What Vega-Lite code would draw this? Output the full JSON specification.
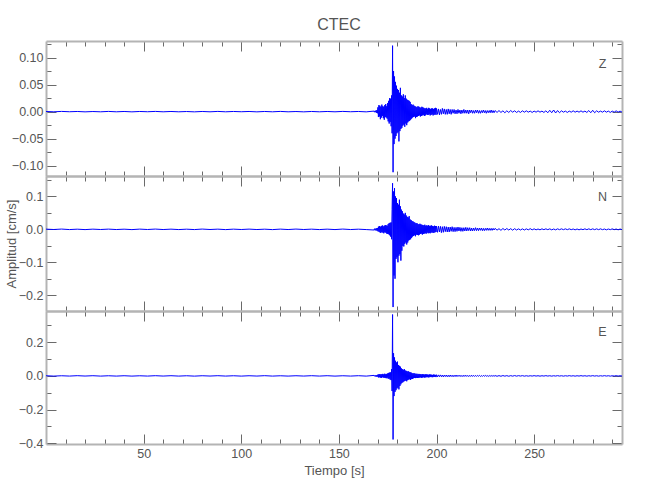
{
  "$schema": "https://vega.github.io/schema/vega-lite/v6.json",
  "background": "white",
  "padding": {"left": 5, "top": 17, "right": 5, "bottom": 5},
  "title": {"text": "CTEC", "fontSize": 16, "font": "Liberation Sans, sans-serif", "fontWeight": "normal", "color": "#555555", "anchor": "middle", "offset": 5, "dx": 25},
  "spacing": 0,
  "bounds": "flush",
  "config": {
    "view": {"stroke": null},
    "axis": {
      "grid": false,
      "domainColor": "#b4b4b4",
      "domainWidth": 2,
      "tickColor": "#6a6a6a",
      "tickWidth": 1,
      "labelFont": "Liberation Sans, sans-serif",
      "labelFontSize": 12.5,
      "labelColor": "#555555",
      "labelOverlap": false,
      "labelFlush": false,
      "labelPadding": 13,
      "titleFont": "Liberation Sans, sans-serif",
      "titleFontWeight": "normal",
      "titleColor": "#555555",
      "titleFontSize": 13
    }
  },
  "data": {"values": [
    {"t":0,"Z":0.0003,"N":0.0006,"E":0.001},
    {"t":4,"Z":-0.0003,"N":-0.0005,"E":-0.0012},
    {"t":8,"Z":0.0004,"N":0.0008,"E":0.0009},
    {"t":12,"Z":-0.0002,"N":-0.0007,"E":-0.001},
    {"t":16,"Z":0.0003,"N":0.0005,"E":0.0013},
    {"t":20,"Z":-0.0004,"N":-0.0008,"E":-0.0008},
    {"t":24,"Z":0.0002,"N":0.0006,"E":0.0011},
    {"t":28,"Z":-0.0003,"N":-0.0005,"E":-0.0012},
    {"t":32,"Z":0.0004,"N":0.0007,"E":0.0009},
    {"t":36,"Z":-0.0003,"N":-0.0006,"E":-0.0011},
    {"t":40,"Z":0.0003,"N":0.0005,"E":0.001},
    {"t":44,"Z":-0.0004,"N":-0.0008,"E":-0.0012},
    {"t":48,"Z":0.0003,"N":0.0007,"E":0.0008},
    {"t":52,"Z":-0.0002,"N":-0.0005,"E":-0.001},
    {"t":56,"Z":0.0004,"N":0.0008,"E":0.0012},
    {"t":60,"Z":-0.0003,"N":-0.0006,"E":-0.0009},
    {"t":64,"Z":0.0003,"N":0.0006,"E":0.0011},
    {"t":68,"Z":-0.0003,"N":-0.0007,"E":-0.0011},
    {"t":72,"Z":0.0002,"N":0.0005,"E":0.0009},
    {"t":76,"Z":-0.0004,"N":-0.0007,"E":-0.0013},
    {"t":80,"Z":0.0003,"N":0.0008,"E":0.001},
    {"t":84,"Z":-0.0003,"N":-0.0005,"E":-0.0008},
    {"t":88,"Z":0.0004,"N":0.0006,"E":0.0012},
    {"t":92,"Z":-0.0003,"N":-0.0008,"E":-0.001},
    {"t":96,"Z":0.0003,"N":0.0006,"E":0.0009},
    {"t":100,"Z":-0.0002,"N":-0.0005,"E":-0.0012},
    {"t":104,"Z":0.0003,"N":0.0007,"E":0.001},
    {"t":108,"Z":-0.0004,"N":-0.0006,"E":-0.0009},
    {"t":112,"Z":0.0003,"N":0.0005,"E":0.0013},
    {"t":116,"Z":-0.0003,"N":-0.0008,"E":-0.0011},
    {"t":120,"Z":0.0004,"N":0.0007,"E":0.0008},
    {"t":124,"Z":-0.0003,"N":-0.0006,"E":-0.0011},
    {"t":128,"Z":0.0002,"N":0.0008,"E":0.001},
    {"t":132,"Z":-0.0004,"N":-0.0005,"E":-0.0009},
    {"t":136,"Z":0.0003,"N":0.0006,"E":0.0012},
    {"t":140,"Z":-0.0003,"N":-0.0007,"E":-0.001},
    {"t":144,"Z":0.0003,"N":0.0006,"E":0.0011},
    {"t":148,"Z":-0.0003,"N":-0.0007,"E":-0.0012},
    {"t":152,"Z":0.0004,"N":0.0008,"E":0.0009},
    {"t":156,"Z":-0.0002,"N":-0.0006,"E":-0.001},
    {"t":160,"Z":0.0003,"N":0.0005,"E":0.0011},
    {"t":164,"Z":-0.0004,"N":-0.0007,"E":-0.0012},
    {"t":168,"Z":0.001,"N":-0.002,"E":0.003},
    {"t":168.25,"Z":-0.001,"N":0.002,"E":-0.002},
    {"t":168.5,"Z":0.0015,"N":-0.003,"E":0.004},
    {"t":168.75,"Z":-0.001,"N":0.002,"E":-0.003},
    {"t":169,"Z":0.002,"N":-0.003,"E":0.003},
    {"t":169.25,"Z":-0.002,"N":0.003,"E":-0.004},
    {"t":169.5,"Z":0.003,"N":-0.004,"E":0.005},
    {"t":169.75,"Z":-0.003,"N":0.004,"E":-0.004},
    {"t":170,"Z":0.008,"N":-0.006,"E":0.008},
    {"t":170.25,"Z":-0.01,"N":0.008,"E":-0.009},
    {"t":170.5,"Z":0.012,"N":-0.007,"E":0.01},
    {"t":170.75,"Z":-0.009,"N":0.01,"E":-0.008},
    {"t":171,"Z":0.011,"N":-0.009,"E":0.011},
    {"t":171.25,"Z":-0.014,"N":0.008,"E":-0.01},
    {"t":171.5,"Z":0.009,"N":-0.011,"E":0.009},
    {"t":171.75,"Z":-0.011,"N":0.01,"E":-0.012},
    {"t":172,"Z":0.013,"N":-0.008,"E":0.01},
    {"t":172.25,"Z":-0.008,"N":0.012,"E":-0.008},
    {"t":172.5,"Z":0.01,"N":-0.01,"E":0.012},
    {"t":172.75,"Z":-0.012,"N":0.009,"E":-0.01},
    {"t":173,"Z":0.009,"N":-0.012,"E":0.009},
    {"t":173.25,"Z":-0.015,"N":0.011,"E":-0.011},
    {"t":173.5,"Z":0.012,"N":-0.009,"E":0.013},
    {"t":173.75,"Z":-0.01,"N":0.013,"E":-0.012},
    {"t":174,"Z":0.014,"N":-0.01,"E":0.01},
    {"t":174.25,"Z":-0.011,"N":0.012,"E":-0.014},
    {"t":174.5,"Z":0.01,"N":-0.013,"E":0.012},
    {"t":174.75,"Z":-0.013,"N":0.011,"E":-0.011},
    {"t":175,"Z":0.016,"N":-0.014,"E":0.015},
    {"t":175.25,"Z":-0.018,"N":0.016,"E":-0.017},
    {"t":175.5,"Z":0.02,"N":-0.015,"E":0.018},
    {"t":175.75,"Z":-0.022,"N":0.019,"E":-0.016},
    {"t":176,"Z":0.025,"N":-0.018,"E":0.02},
    {"t":176.25,"Z":-0.019,"N":0.02,"E":-0.022},
    {"t":176.5,"Z":0.024,"N":-0.022,"E":0.021},
    {"t":176.75,"Z":-0.027,"N":0.021,"E":-0.025},
    {"t":177,"Z":0.03,"N":-0.03,"E":0.04},
    {"t":177.25,"Z":-0.04,"N":0.06,"E":-0.09},
    {"t":177.5,"Z":0.122,"N":0.14,"E":0.365},
    {"t":177.75,"Z":-0.112,"N":-0.236,"E":-0.378},
    {"t":178,"Z":0.075,"N":0.115,"E":0.135},
    {"t":178.25,"Z":-0.06,"N":-0.14,"E":-0.12},
    {"t":178.5,"Z":0.065,"N":0.125,"E":0.11},
    {"t":178.75,"Z":-0.05,"N":-0.15,"E":-0.095},
    {"t":179,"Z":0.055,"N":0.1,"E":0.09},
    {"t":179.25,"Z":-0.045,"N":-0.09,"E":-0.085},
    {"t":179.5,"Z":0.048,"N":0.095,"E":0.08},
    {"t":179.75,"Z":-0.04,"N":-0.085,"E":-0.075},
    {"t":180,"Z":0.042,"N":0.08,"E":0.085},
    {"t":180.25,"Z":-0.038,"N":-0.1,"E":-0.07},
    {"t":180.5,"Z":0.04,"N":0.075,"E":0.065},
    {"t":180.75,"Z":-0.055,"N":-0.08,"E":-0.08},
    {"t":181,"Z":0.035,"N":0.09,"E":0.06},
    {"t":181.25,"Z":-0.036,"N":-0.075,"E":-0.06},
    {"t":181.5,"Z":0.044,"N":0.07,"E":0.055},
    {"t":181.75,"Z":-0.032,"N":-0.095,"E":-0.05},
    {"t":182,"Z":0.03,"N":0.06,"E":0.045},
    {"t":182.25,"Z":-0.03,"N":-0.065,"E":-0.042},
    {"t":182.5,"Z":0.028,"N":0.055,"E":0.04},
    {"t":182.75,"Z":-0.026,"N":-0.05,"E":-0.038},
    {"t":183,"Z":0.032,"N":0.048,"E":0.036},
    {"t":183.25,"Z":-0.024,"N":-0.052,"E":-0.034},
    {"t":183.5,"Z":0.025,"N":0.045,"E":0.04},
    {"t":183.75,"Z":-0.028,"N":-0.044,"E":-0.03},
    {"t":184,"Z":0.03,"N":0.05,"E":0.032},
    {"t":184.25,"Z":-0.022,"N":-0.04,"E":-0.028},
    {"t":184.5,"Z":0.024,"N":0.042,"E":0.03},
    {"t":184.75,"Z":-0.025,"N":-0.046,"E":-0.032},
    {"t":185,"Z":0.022,"N":0.038,"E":0.026},
    {"t":185.25,"Z":-0.02,"N":-0.04,"E":-0.025},
    {"t":185.5,"Z":0.021,"N":0.036,"E":0.028},
    {"t":185.75,"Z":-0.018,"N":-0.034,"E":-0.022},
    {"t":186,"Z":0.02,"N":0.04,"E":0.024},
    {"t":186.25,"Z":-0.017,"N":-0.032,"E":-0.02},
    {"t":186.5,"Z":0.018,"N":0.03,"E":0.022},
    {"t":186.75,"Z":-0.015,"N":-0.03,"E":-0.024},
    {"t":187,"Z":0.014,"N":0.028,"E":0.02},
    {"t":187.25,"Z":-0.013,"N":-0.026,"E":-0.018},
    {"t":187.5,"Z":0.012,"N":0.025,"E":0.016},
    {"t":187.75,"Z":-0.011,"N":-0.022,"E":-0.018},
    {"t":188,"Z":0.013,"N":0.024,"E":0.015},
    {"t":188.25,"Z":-0.01,"N":-0.02,"E":-0.014},
    {"t":188.5,"Z":0.011,"N":0.022,"E":0.016},
    {"t":188.75,"Z":-0.009,"N":-0.018,"E":-0.012},
    {"t":189,"Z":0.01,"N":0.02,"E":0.014},
    {"t":189.25,"Z":-0.012,"N":-0.021,"E":-0.013},
    {"t":189.5,"Z":0.009,"N":0.018,"E":0.012},
    {"t":189.75,"Z":-0.01,"N":-0.016,"E":-0.011},
    {"t":190,"Z":0.008,"N":0.019,"E":0.013},
    {"t":190.25,"Z":-0.009,"N":-0.017,"E":-0.012},
    {"t":190.5,"Z":0.01,"N":0.016,"E":0.01},
    {"t":190.75,"Z":-0.008,"N":-0.018,"E":-0.011},
    {"t":191,"Z":0.009,"N":0.015,"E":0.012},
    {"t":191.25,"Z":-0.007,"N":-0.016,"E":-0.01},
    {"t":191.5,"Z":0.008,"N":0.017,"E":0.011},
    {"t":191.75,"Z":-0.009,"N":-0.014,"E":-0.009},
    {"t":192,"Z":0.007,"N":0.015,"E":0.01},
    {"t":192.25,"Z":-0.008,"N":-0.013,"E":-0.011},
    {"t":192.5,"Z":0.009,"N":0.014,"E":0.009},
    {"t":192.75,"Z":-0.007,"N":-0.016,"E":-0.01},
    {"t":193,"Z":0.008,"N":0.013,"E":0.011},
    {"t":193.25,"Z":-0.006,"N":-0.014,"E":-0.008},
    {"t":193.5,"Z":0.007,"N":0.012,"E":0.009},
    {"t":193.75,"Z":-0.008,"N":-0.013,"E":-0.01},
    {"t":194,"Z":0.006,"N":0.014,"E":0.008},
    {"t":194.25,"Z":-0.007,"N":-0.012,"E":-0.009},
    {"t":194.5,"Z":0.006,"N":0.011,"E":0.01},
    {"t":194.75,"Z":-0.005,"N":-0.013,"E":-0.008},
    {"t":195,"Z":0.007,"N":0.012,"E":0.009},
    {"t":195.25,"Z":-0.006,"N":-0.01,"E":-0.007},
    {"t":195.5,"Z":0.005,"N":0.011,"E":0.008},
    {"t":195.75,"Z":-0.006,"N":-0.012,"E":-0.009},
    {"t":196,"Z":0.007,"N":0.013,"E":0.007},
    {"t":196.25,"Z":-0.005,"N":-0.011,"E":-0.008},
    {"t":196.5,"Z":0.006,"N":0.01,"E":0.009},
    {"t":196.75,"Z":-0.007,"N":-0.012,"E":-0.007},
    {"t":197,"Z":0.005,"N":0.011,"E":0.008},
    {"t":197.25,"Z":-0.006,"N":-0.01,"E":-0.006},
    {"t":197.5,"Z":0.006,"N":0.012,"E":0.007},
    {"t":197.75,"Z":-0.005,"N":-0.009,"E":-0.008},
    {"t":198,"Z":0.006,"N":0.01,"E":0.006},
    {"t":198.25,"Z":-0.007,"N":-0.011,"E":-0.007},
    {"t":198.5,"Z":0.005,"N":0.009,"E":0.008},
    {"t":198.75,"Z":-0.006,"N":-0.01,"E":-0.006},
    {"t":199,"Z":0.006,"N":0.011,"E":0.007},
    {"t":199.25,"Z":-0.005,"N":-0.009,"E":-0.006},
    {"t":199.5,"Z":0.007,"N":0.01,"E":0.006},
    {"t":199.75,"Z":-0.006,"N":-0.008,"E":-0.007},
    {"t":200,"Z":0.006,"N":0.01,"E":0.007},
    {"t":200.5,"Z":-0.005,"N":-0.009,"E":-0.006},
    {"t":201,"Z":0.005,"N":0.01,"E":0.006},
    {"t":201.5,"Z":-0.006,"N":-0.008,"E":-0.005},
    {"t":202,"Z":0.004,"N":0.009,"E":0.006},
    {"t":202.5,"Z":-0.005,"N":-0.01,"E":-0.005},
    {"t":203,"Z":0.006,"N":0.008,"E":0.005},
    {"t":203.5,"Z":-0.004,"N":-0.009,"E":-0.006},
    {"t":204,"Z":0.005,"N":0.009,"E":0.005},
    {"t":204.5,"Z":-0.005,"N":-0.007,"E":-0.004},
    {"t":205,"Z":0.004,"N":0.008,"E":0.005},
    {"t":205.5,"Z":-0.005,"N":-0.008,"E":-0.005},
    {"t":206,"Z":0.005,"N":0.007,"E":0.004},
    {"t":206.5,"Z":-0.004,"N":-0.008,"E":-0.005},
    {"t":207,"Z":0.004,"N":0.007,"E":0.005},
    {"t":207.5,"Z":-0.005,"N":-0.006,"E":-0.004},
    {"t":208,"Z":0.004,"N":0.008,"E":0.004},
    {"t":208.5,"Z":-0.003,"N":-0.007,"E":-0.005},
    {"t":209,"Z":0.004,"N":0.006,"E":0.004},
    {"t":209.5,"Z":-0.004,"N":-0.007,"E":-0.004},
    {"t":210,"Z":0.003,"N":0.006,"E":0.005},
    {"t":210.5,"Z":-0.004,"N":-0.006,"E":-0.004},
    {"t":211,"Z":0.004,"N":0.007,"E":0.004},
    {"t":211.5,"Z":-0.003,"N":-0.005,"E":-0.003},
    {"t":212,"Z":0.003,"N":0.006,"E":0.004},
    {"t":212.5,"Z":-0.004,"N":-0.006,"E":-0.004},
    {"t":213,"Z":0.003,"N":0.005,"E":0.003},
    {"t":213.5,"Z":-0.003,"N":-0.006,"E":-0.004},
    {"t":214,"Z":0.004,"N":0.005,"E":0.004},
    {"t":214.5,"Z":-0.003,"N":-0.005,"E":-0.003},
    {"t":215,"Z":0.003,"N":0.006,"E":0.004},
    {"t":215.5,"Z":-0.003,"N":-0.005,"E":-0.003},
    {"t":216,"Z":0.003,"N":0.005,"E":0.003},
    {"t":216.5,"Z":-0.004,"N":-0.004,"E":-0.004},
    {"t":217,"Z":0.003,"N":0.005,"E":0.003},
    {"t":217.5,"Z":-0.002,"N":-0.005,"E":-0.003},
    {"t":218,"Z":0.003,"N":0.004,"E":0.004},
    {"t":218.5,"Z":-0.003,"N":-0.005,"E":-0.003},
    {"t":219,"Z":0.002,"N":0.004,"E":0.003},
    {"t":219.5,"Z":-0.003,"N":-0.004,"E":-0.003},
    {"t":220,"Z":0.003,"N":0.005,"E":0.003},
    {"t":220.5,"Z":-0.002,"N":-0.004,"E":-0.003},
    {"t":221,"Z":0.003,"N":0.004,"E":0.003},
    {"t":221.5,"Z":-0.003,"N":-0.004,"E":-0.002},
    {"t":222,"Z":0.002,"N":0.004,"E":0.003},
    {"t":222.5,"Z":-0.003,"N":-0.003,"E":-0.003},
    {"t":223,"Z":0.002,"N":0.004,"E":0.002},
    {"t":223.5,"Z":-0.002,"N":-0.004,"E":-0.003},
    {"t":224,"Z":0.003,"N":0.003,"E":0.003},
    {"t":224.5,"Z":-0.002,"N":-0.004,"E":-0.002},
    {"t":225,"Z":0.002,"N":0.003,"E":0.003},
    {"t":225.5,"Z":-0.003,"N":-0.003,"E":-0.002},
    {"t":226,"Z":0.002,"N":0.004,"E":0.002},
    {"t":226.5,"Z":-0.002,"N":-0.003,"E":-0.003},
    {"t":227,"Z":0.002,"N":0.003,"E":0.002},
    {"t":227.5,"Z":-0.002,"N":-0.003,"E":-0.002},
    {"t":228,"Z":0.003,"N":0.003,"E":0.002},
    {"t":228.5,"Z":-0.002,"N":-0.003,"E":-0.002},
    {"t":229,"Z":0.002,"N":0.003,"E":0.002},
    {"t":229.5,"Z":-0.002,"N":-0.002,"E":-0.002},
    {"t":230,"Z":0.002,"N":0.003,"E":0.002},
    {"t":231,"Z":-0.0015,"N":-0.0025,"E":-0.002},
    {"t":232,"Z":0.002,"N":0.002,"E":0.0015},
    {"t":233,"Z":-0.0015,"N":-0.003,"E":-0.002},
    {"t":234,"Z":0.0015,"N":0.0025,"E":0.002},
    {"t":235,"Z":-0.002,"N":-0.002,"E":-0.0015},
    {"t":236,"Z":0.0015,"N":0.0025,"E":0.0015},
    {"t":237,"Z":-0.0015,"N":-0.002,"E":-0.002},
    {"t":238,"Z":0.002,"N":0.002,"E":0.0015},
    {"t":239,"Z":-0.001,"N":-0.0025,"E":-0.0015},
    {"t":240,"Z":0.0015,"N":0.002,"E":0.002},
    {"t":241,"Z":-0.0015,"N":-0.002,"E":-0.0015},
    {"t":242,"Z":0.001,"N":0.0015,"E":0.0015},
    {"t":243,"Z":-0.0015,"N":-0.002,"E":-0.001},
    {"t":244,"Z":0.0015,"N":0.0015,"E":0.0015},
    {"t":245,"Z":-0.001,"N":-0.002,"E":-0.0015},
    {"t":246,"Z":0.0015,"N":0.0015,"E":0.001},
    {"t":247,"Z":-0.001,"N":-0.0015,"E":-0.0015},
    {"t":248,"Z":0.001,"N":0.002,"E":0.001},
    {"t":249,"Z":-0.0015,"N":-0.0015,"E":-0.001},
    {"t":250,"Z":0.001,"N":0.0015,"E":0.0015},
    {"t":251,"Z":-0.001,"N":-0.0015,"E":-0.001},
    {"t":252,"Z":0.0015,"N":0.001,"E":0.001},
    {"t":253,"Z":-0.001,"N":-0.0015,"E":-0.0015},
    {"t":254,"Z":0.001,"N":0.0015,"E":0.001},
    {"t":255,"Z":-0.0015,"N":-0.001,"E":-0.001},
    {"t":256,"Z":0.0015,"N":0.0015,"E":0.0015},
    {"t":257,"Z":-0.002,"N":-0.001,"E":-0.001},
    {"t":258,"Z":0.0025,"N":0.0015,"E":0.001},
    {"t":259,"Z":-0.002,"N":-0.0015,"E":-0.0015},
    {"t":260,"Z":0.003,"N":0.001,"E":0.001},
    {"t":261,"Z":-0.0025,"N":-0.0015,"E":-0.001},
    {"t":262,"Z":0.002,"N":0.0015,"E":0.0015},
    {"t":263,"Z":-0.002,"N":-0.001,"E":-0.001},
    {"t":264,"Z":0.0015,"N":0.0015,"E":0.001},
    {"t":265,"Z":-0.001,"N":-0.001,"E":-0.0015},
    {"t":266,"Z":0.001,"N":0.0015,"E":0.001},
    {"t":267,"Z":-0.0015,"N":-0.001,"E":-0.001},
    {"t":268,"Z":0.001,"N":0.0015,"E":0.0015},
    {"t":269,"Z":-0.001,"N":-0.001,"E":-0.001},
    {"t":270,"Z":0.0015,"N":0.001,"E":0.001},
    {"t":271,"Z":-0.001,"N":-0.0015,"E":-0.0015},
    {"t":272,"Z":0.001,"N":0.001,"E":0.001},
    {"t":273,"Z":-0.001,"N":-0.0015,"E":-0.001},
    {"t":274,"Z":0.0015,"N":0.001,"E":0.0015},
    {"t":275,"Z":-0.001,"N":-0.001,"E":-0.001},
    {"t":276,"Z":0.001,"N":0.0015,"E":0.001},
    {"t":277,"Z":-0.0015,"N":-0.001,"E":-0.0015},
    {"t":278,"Z":0.002,"N":0.0015,"E":0.001},
    {"t":279,"Z":-0.002,"N":-0.001,"E":-0.001},
    {"t":280,"Z":0.0025,"N":0.0015,"E":0.0015},
    {"t":281,"Z":-0.002,"N":-0.001,"E":-0.001},
    {"t":282,"Z":0.0015,"N":0.0015,"E":0.001},
    {"t":283,"Z":-0.001,"N":-0.001,"E":-0.0015},
    {"t":284,"Z":0.001,"N":0.0015,"E":0.001},
    {"t":285,"Z":-0.001,"N":-0.001,"E":-0.001},
    {"t":286,"Z":0.0015,"N":0.001,"E":0.0015},
    {"t":287,"Z":-0.001,"N":-0.0015,"E":-0.001},
    {"t":288,"Z":0.001,"N":0.001,"E":0.001},
    {"t":289,"Z":-0.0015,"N":-0.001,"E":-0.0015},
    {"t":290,"Z":0.001,"N":0.0015,"E":0.001},
    {"t":291,"Z":-0.001,"N":-0.001,"E":-0.001},
    {"t":292,"Z":0.0015,"N":0.001,"E":0.0015},
    {"t":293,"Z":-0.001,"N":-0.0015,"E":-0.001},
    {"t":294,"Z":0.001,"N":0.001,"E":0.001},
    {"t":295,"Z":-0.001,"N":-0.001,"E":-0.001}
  ]},
  "vconcat": [
    {
      "width": 576,
      "height": 135,
      "resolve": {"axis": {"x": "independent", "y": "independent"}},
      "layer": [
        {
          "mark": {"type": "line", "color": "#0000ff", "strokeWidth": 1, "clip": true},
          "encoding": {
            "x": {"field": "t", "type": "quantitative", "scale": {"domain": [0, 295], "nice": false, "zero": false},
              "axis": {"orient": "bottom", "title": null, "labels": false, "values": [10,20,30,40,50,60,70,80,90,100,110,120,130,140,150,160,170,180,190,200,210,220,230,240,250,260,270,280,290],
                "tickSize": {"condition": {"test": "datum.value % 50 === 0", "value": -10}, "value": -5}}},
            "y": {"field": "Z", "type": "quantitative", "scale": {"domain": [-0.119, 0.1306], "nice": false, "zero": false},
              "axis": {"orient": "left", "title": null, "format": ".2f", "values": [-0.1,-0.075,-0.05,-0.025,0,0.025,0.05,0.075,0.1,0.125],
                "labelExpr": "abs(datum.value*20 - round(datum.value*20)) < 0.01 ? datum.label : ''",
                "tickSize": {"condition": {"test": "abs(datum.value*20 - round(datum.value*20)) < 0.01", "value": -10}, "value": -5}}}
          }
        },
        {
          "mark": {"type": "line", "opacity": 0},
          "encoding": {
            "x": {"field": "t", "type": "quantitative",
              "axis": {"orient": "top", "title": null, "labels": false, "values": [10,20,30,40,50,60,70,80,90,100,110,120,130,140,150,160,170,180,190,200,210,220,230,240,250,260,270,280,290],
                "tickSize": {"condition": {"test": "datum.value % 50 === 0", "value": -10}, "value": -5}}},
            "y": {"field": "Z", "type": "quantitative",
              "axis": {"orient": "right", "title": null, "labels": false, "values": [-0.1,-0.075,-0.05,-0.025,0,0.025,0.05,0.075,0.1,0.125],
                "tickSize": {"condition": {"test": "abs(datum.value*20 - round(datum.value*20)) < 0.01", "value": -10}, "value": -5}}}
          }
        },
        {
          "data": {"values": [{"label": "Z"}]},
          "mark": {"type": "text", "fontSize": 12.5, "color": "#555555", "font": "Liberation Sans, sans-serif"},
          "encoding": {
            "x": {"datum": 285, "type": "quantitative", "axis": null},
            "y": {"datum": 0.089, "type": "quantitative", "axis": null},
            "text": {"field": "label"}
          }
        }
      ]
    },
    {
      "width": 576,
      "height": 135,
      "resolve": {"axis": {"x": "independent", "y": "independent"}},
      "layer": [
        {
          "mark": {"type": "line", "color": "#0000ff", "strokeWidth": 1, "clip": true},
          "encoding": {
            "x": {"field": "t", "type": "quantitative", "scale": {"domain": [0, 295], "nice": false, "zero": false},
              "axis": {"orient": "bottom", "title": null, "labels": false, "values": [10,20,30,40,50,60,70,80,90,100,110,120,130,140,150,160,170,180,190,200,210,220,230,240,250,260,270,280,290],
                "tickSize": {"condition": {"test": "datum.value % 50 === 0", "value": -10}, "value": -5}}},
            "y": {"field": "N", "type": "quantitative", "scale": {"domain": [-0.248, 0.162], "nice": false, "zero": false},
              "axis": {"orient": "left", "title": "Amplitud  [cm/s]", "titlePadding": 0, "format": ".1f", "values": [-0.2,-0.15,-0.1,-0.05,0,0.05,0.1,0.15],
                "labelExpr": "abs(datum.value*10 - round(datum.value*10)) < 0.01 ? datum.label : ''",
                "tickSize": {"condition": {"test": "abs(datum.value*10 - round(datum.value*10)) < 0.01", "value": -10}, "value": -5}}}
          }
        },
        {
          "mark": {"type": "line", "opacity": 0},
          "encoding": {
            "x": {"field": "t", "type": "quantitative",
              "axis": {"orient": "top", "title": null, "labels": false, "values": [10,20,30,40,50,60,70,80,90,100,110,120,130,140,150,160,170,180,190,200,210,220,230,240,250,260,270,280,290],
                "tickSize": {"condition": {"test": "datum.value % 50 === 0", "value": -10}, "value": -5}}},
            "y": {"field": "N", "type": "quantitative",
              "axis": {"orient": "right", "title": null, "labels": false, "values": [-0.2,-0.15,-0.1,-0.05,0,0.05,0.1,0.15],
                "tickSize": {"condition": {"test": "abs(datum.value*10 - round(datum.value*10)) < 0.01", "value": -10}, "value": -5}}}
          }
        },
        {
          "data": {"values": [{"label": "N"}]},
          "mark": {"type": "text", "fontSize": 12.5, "color": "#555555", "font": "Liberation Sans, sans-serif"},
          "encoding": {
            "x": {"datum": 285, "type": "quantitative", "axis": null},
            "y": {"datum": 0.097, "type": "quantitative", "axis": null},
            "text": {"field": "label"}
          }
        }
      ]
    },
    {
      "width": 576,
      "height": 133,
      "resolve": {"axis": {"x": "independent", "y": "independent"}},
      "layer": [
        {
          "mark": {"type": "line", "color": "#0000ff", "strokeWidth": 1, "clip": true},
          "encoding": {
            "x": {"field": "t", "type": "quantitative", "scale": {"domain": [0, 295], "nice": false, "zero": false},
              "axis": {"orient": "bottom", "title": "Tiempo  [s]", "titlePadding": 0, "values": [10,20,30,40,50,60,70,80,90,100,110,120,130,140,150,160,170,180,190,200,210,220,230,240,250,260,270,280,290],
                "labelExpr": "datum.value % 50 === 0 ? datum.label : ''",
                "tickSize": {"condition": {"test": "datum.value % 50 === 0", "value": -10}, "value": -5}}},
            "y": {"field": "E", "type": "quantitative", "scale": {"domain": [-0.405, 0.386], "nice": false, "zero": false},
              "axis": {"orient": "left", "title": null, "format": ".1f", "values": [-0.4,-0.3,-0.2,-0.1,0,0.1,0.2,0.3],
                "labelExpr": "abs(datum.value*5 - round(datum.value*5)) < 0.01 ? datum.label : ''",
                "tickSize": {"condition": {"test": "abs(datum.value*5 - round(datum.value*5)) < 0.01", "value": -10}, "value": -5}}}
          }
        },
        {
          "mark": {"type": "line", "opacity": 0},
          "encoding": {
            "x": {"field": "t", "type": "quantitative",
              "axis": {"orient": "top", "title": null, "labels": false, "values": [10,20,30,40,50,60,70,80,90,100,110,120,130,140,150,160,170,180,190,200,210,220,230,240,250,260,270,280,290],
                "tickSize": {"condition": {"test": "datum.value % 50 === 0", "value": -10}, "value": -5}}},
            "y": {"field": "E", "type": "quantitative",
              "axis": {"orient": "right", "title": null, "labels": false, "values": [-0.4,-0.3,-0.2,-0.1,0,0.1,0.2,0.3],
                "tickSize": {"condition": {"test": "abs(datum.value*5 - round(datum.value*5)) < 0.01", "value": -10}, "value": -5}}}
          }
        },
        {
          "data": {"values": [{"label": "E"}]},
          "mark": {"type": "text", "fontSize": 12.5, "color": "#555555", "font": "Liberation Sans, sans-serif"},
          "encoding": {
            "x": {"datum": 285, "type": "quantitative", "axis": null},
            "y": {"datum": 0.26, "type": "quantitative", "axis": null},
            "text": {"field": "label"}
          }
        }
      ]
    }
  ]
}
